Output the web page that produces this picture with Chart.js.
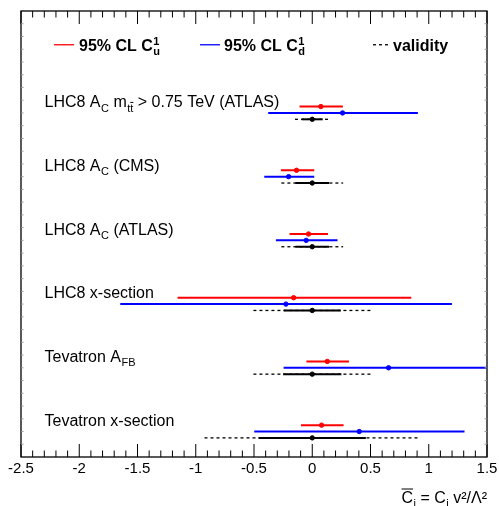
<!DOCTYPE html>
<html>
<head>
<meta charset="utf-8">
<script src="https://cdn.jsdelivr.net/npm/chart.js@4.4.1/dist/chart.umd.min.js"></script>
<style>
  body { margin: 0; background: #fff; }
  #wrap { width: 499px; height: 506px; }
</style>
</head>
<body>
<div id="wrap"><canvas id="myChart"></canvas></div>
<script>
// measurements, one row per line of the plot (top to bottom)
var rowPos = [5, 4, 3, 2, 1, 0];
var upCenter = [0.074, -0.135, -0.032, -0.16, 0.129, 0.08];
var upLow = [-0.109, -0.269, -0.195, -1.156, -0.05, -0.097];
var upHigh = [0.263, 0.017, 0.135, 0.85, 0.315, 0.269];
var downCenter = [0.26, -0.203, -0.052, -0.226, 0.655, 0.403];
var downLow = [-0.378, -0.412, -0.312, -1.648, -0.246, -0.498];
var downHigh = [0.907, 0.017, 0.217, 1.199, 1.6, 1.307];
var validCenter = [0, 0, 0, 0, 0, 0];
var validInner = [0.09, 0.145, 0.145, 0.245, 0.25, 0.46];
var validOuter = [0.148, 0.265, 0.265, 0.505, 0.505, 0.925];
var xTicks = [-2.5, -2, -1.5, -1, -0.5, 0, 0.5, 1, 1.5];

// row labels, parts: t = text, sub = subscript, subBar = overlined subscript
var rowLabels = [
  [{t: 'LHC8 A'}, {sub: 'C'}, {t: ' m'}, {sub: 't', subBar: 't'}, {t: ' > 0.75 TeV (ATLAS)'}],
  [{t: 'LHC8 A'}, {sub: 'C'}, {t: ' (CMS)'}],
  [{t: 'LHC8 A'}, {sub: 'C'}, {t: ' (ATLAS)'}],
  [{t: 'LHC8 x-section'}],
  [{t: 'Tevatron A'}, {sub: 'FB'}],
  [{t: 'Tevatron x-section'}]
];
var titleParts = [{t: 'C'}, {sub: 'i'}, {t: ' = C'}, {sub: 'i'}, {t: ' v\u00b2/\u039b\u00b2'}];

var FONT = '"Liberation Sans", Arial, Helvetica, sans-serif';

function drawRich(ctx, x, y, parts, size, bold, dry) {
  var w = bold ? 'bold ' : '';
  var small = Math.round(size * 0.68);
  ctx.textBaseline = 'alphabetic';
  ctx.textAlign = 'left';
  parts.forEach(function (p) {
    if (p.t) {
      ctx.font = w + size + 'px ' + FONT;
      if (!dry) ctx.fillText(p.t, x, y);
      x += ctx.measureText(p.t).width;
    } else {
      ctx.font = w + small + 'px ' + FONT;
      var adv = 0;
      if (p.sup) {
        if (!dry) ctx.fillText(p.sup, x + 0.5, y - size * 0.38);
        adv = ctx.measureText(p.sup).width;
      }
      if (p.sub) {
        if (!dry) ctx.fillText(p.sub, x + 0.5, y + size * 0.27);
        adv = Math.max(adv, ctx.measureText(p.sub).width);
      }
      if (p.subBar) {
        var xb = x + 0.5 + adv;
        var bw = ctx.measureText(p.subBar).width;
        if (!dry) {
          ctx.fillText(p.subBar, xb, y + size * 0.27);
          ctx.save();
          ctx.lineWidth = 1;
          ctx.beginPath();
          ctx.moveTo(xb, y - size * 0.3);
          ctx.lineTo(xb + bw, y - size * 0.3);
          ctx.stroke();
          ctx.restore();
        }
        adv += bw;
      }
      x += adv + 0.5;
    }
  });
  return x;
}

function hLine(ctx, x1, x2, y, color, width, dash) {
  ctx.save();
  ctx.strokeStyle = color;
  ctx.lineWidth = width;
  ctx.setLineDash(dash || []);
  ctx.beginPath();
  ctx.moveTo(x1, y);
  ctx.lineTo(x2, y);
  ctx.stroke();
  ctx.restore();
}

var errorBars = {
  id: 'errorBars',
  beforeDatasetsDraw: function (chart) {
    var ctx = chart.ctx, xs = chart.scales.x, ys = chart.scales.y, a = chart.chartArea;
    ctx.save();
    ctx.beginPath();
    ctx.rect(a.left, a.top, a.right - a.left, a.bottom - a.top);
    ctx.clip();
    rowPos.forEach(function (r, i) {
      var yr = ys.getPixelForValue(r + 0.5);
      var yb = ys.getPixelForValue(r + 0.4);
      var yk = ys.getPixelForValue(r + 0.3);
      hLine(ctx, xs.getPixelForValue(upLow[i]), xs.getPixelForValue(upHigh[i]), yr, '#ff0000', 2);
      hLine(ctx, xs.getPixelForValue(downLow[i]), xs.getPixelForValue(downHigh[i]), yb, '#0000ff', 2);
      hLine(ctx, xs.getPixelForValue(validCenter[i] - validOuter[i]), xs.getPixelForValue(validCenter[i] + validOuter[i]), yk, '#000', 1.3, [3, 3]);
      hLine(ctx, xs.getPixelForValue(validCenter[i] - validInner[i]), xs.getPixelForValue(validCenter[i] + validInner[i]), yk, '#000', 2);
    });
    ctx.restore();
  },
  afterDraw: function (chart) {
    var ctx = chart.ctx, xs = chart.scales.x, ys = chart.scales.y, a = chart.chartArea;
    ctx.save();
    ctx.fillStyle = '#000';
    ctx.strokeStyle = '#000';

    // frame
    ctx.lineWidth = 1.3;
    ctx.strokeRect(a.left, a.top, a.right - a.left, a.bottom - a.top);

    // x ticks, bottom and top
    ctx.lineWidth = 1;
    for (var k = 0; k <= 40; k++) {
      var v = -2.5 + k * 0.1;
      var px = xs.getPixelForValue(v);
      var len = (k % 5 === 0) ? 13 : 6.5;
      ctx.beginPath();
      ctx.moveTo(px, a.bottom);
      ctx.lineTo(px, a.bottom - len);
      ctx.moveTo(px, a.top);
      ctx.lineTo(px, a.top + len);
      ctx.stroke();
    }
    // y ticks, left and right
    ctx.strokeStyle = '#999';
    for (var j = 1; j < 35; j++) {
      var py = ys.getPixelForValue(j * 0.2);
      ctx.beginPath();
      ctx.moveTo(a.left, py);
      ctx.lineTo(a.left + 2.5, py);
      ctx.moveTo(a.right, py);
      ctx.lineTo(a.right - 2.5, py);
      ctx.stroke();
    }
    ctx.strokeStyle = '#000';

    // x tick labels
    ctx.font = '15px ' + FONT;
    ctx.textAlign = 'center';
    ctx.textBaseline = 'middle';
    xTicks.forEach(function (v) {
      ctx.fillText(String(v), xs.getPixelForValue(v), a.bottom + 12);
    });

    // axis title, right aligned to the frame
    var tsize = 16;
    var tw = drawRich(ctx, 0, 0, titleParts, tsize, false, true);
    var tx = a.right - tw, ty = a.bottom + 46;
    ctx.font = tsize + 'px ' + FONT;
    var cW = ctx.measureText('C').width;
    drawRich(ctx, tx, ty, titleParts, tsize, false);
    ctx.lineWidth = 1;
    ctx.beginPath();
    ctx.moveTo(tx, ty - 14);
    ctx.lineTo(tx + cW, ty - 14);
    ctx.stroke();

    // row labels
    rowLabels.forEach(function (parts, i) {
      drawRich(ctx, a.left + 23.5, ys.getPixelForValue(rowPos[i] + 0.49), parts, 16, false);
    });

    // legend
    var ly = ys.getPixelForValue(6.47);
    hLine(ctx, a.left + 33, a.left + 53, ly, '#ff0000', 1.3);
    drawRich(ctx, a.left + 58, ly + 6, [{t: '95% CL C'}, {sup: '1', sub: 'u'}], 16, true);
    hLine(ctx, a.left + 179, a.left + 199, ly, '#0000ff', 1.3);
    drawRich(ctx, a.left + 203, ly + 6, [{t: '95% CL C'}, {sup: '1', sub: 'd'}], 16, true);
    hLine(ctx, a.left + 352, a.left + 370, ly, '#000', 1.3, [3, 3]);
    drawRich(ctx, a.left + 372, ly + 6, [{t: 'validity'}], 16, true);

    ctx.restore();
  }
};

function points(xv, off) {
  return rowPos.map(function (r, i) { return {x: xv[i], y: r + off}; });
}

var ctx = document.getElementById('myChart').getContext('2d');
var myChart = new Chart(ctx, {
  type: 'scatter',
  data: {
    datasets: [
      {label: 'up', data: points(upCenter, 0.5), backgroundColor: '#ff0000', borderColor: '#ff0000', pointRadius: 2.2},
      {label: 'down', data: points(downCenter, 0.4), backgroundColor: '#0000ff', borderColor: '#0000ff', pointRadius: 2.2},
      {label: 'validity', data: points(validCenter, 0.3), backgroundColor: '#000', borderColor: '#000', pointRadius: 2.2}
    ]
  },
  options: {
    responsive: true,
    maintainAspectRatio: false,
    animation: false,
    layout: {padding: {left: 21, right: 12, top: 11, bottom: 49}},
    plugins: {legend: {display: false}, tooltip: {enabled: false}},
    scales: {
      x: {type: 'linear', min: -2.5, max: 1.5, display: false},
      y: {type: 'linear', min: 0, max: 7, display: false}
    }
  },
  plugins: [errorBars]
});
</script>
</body>
</html>
